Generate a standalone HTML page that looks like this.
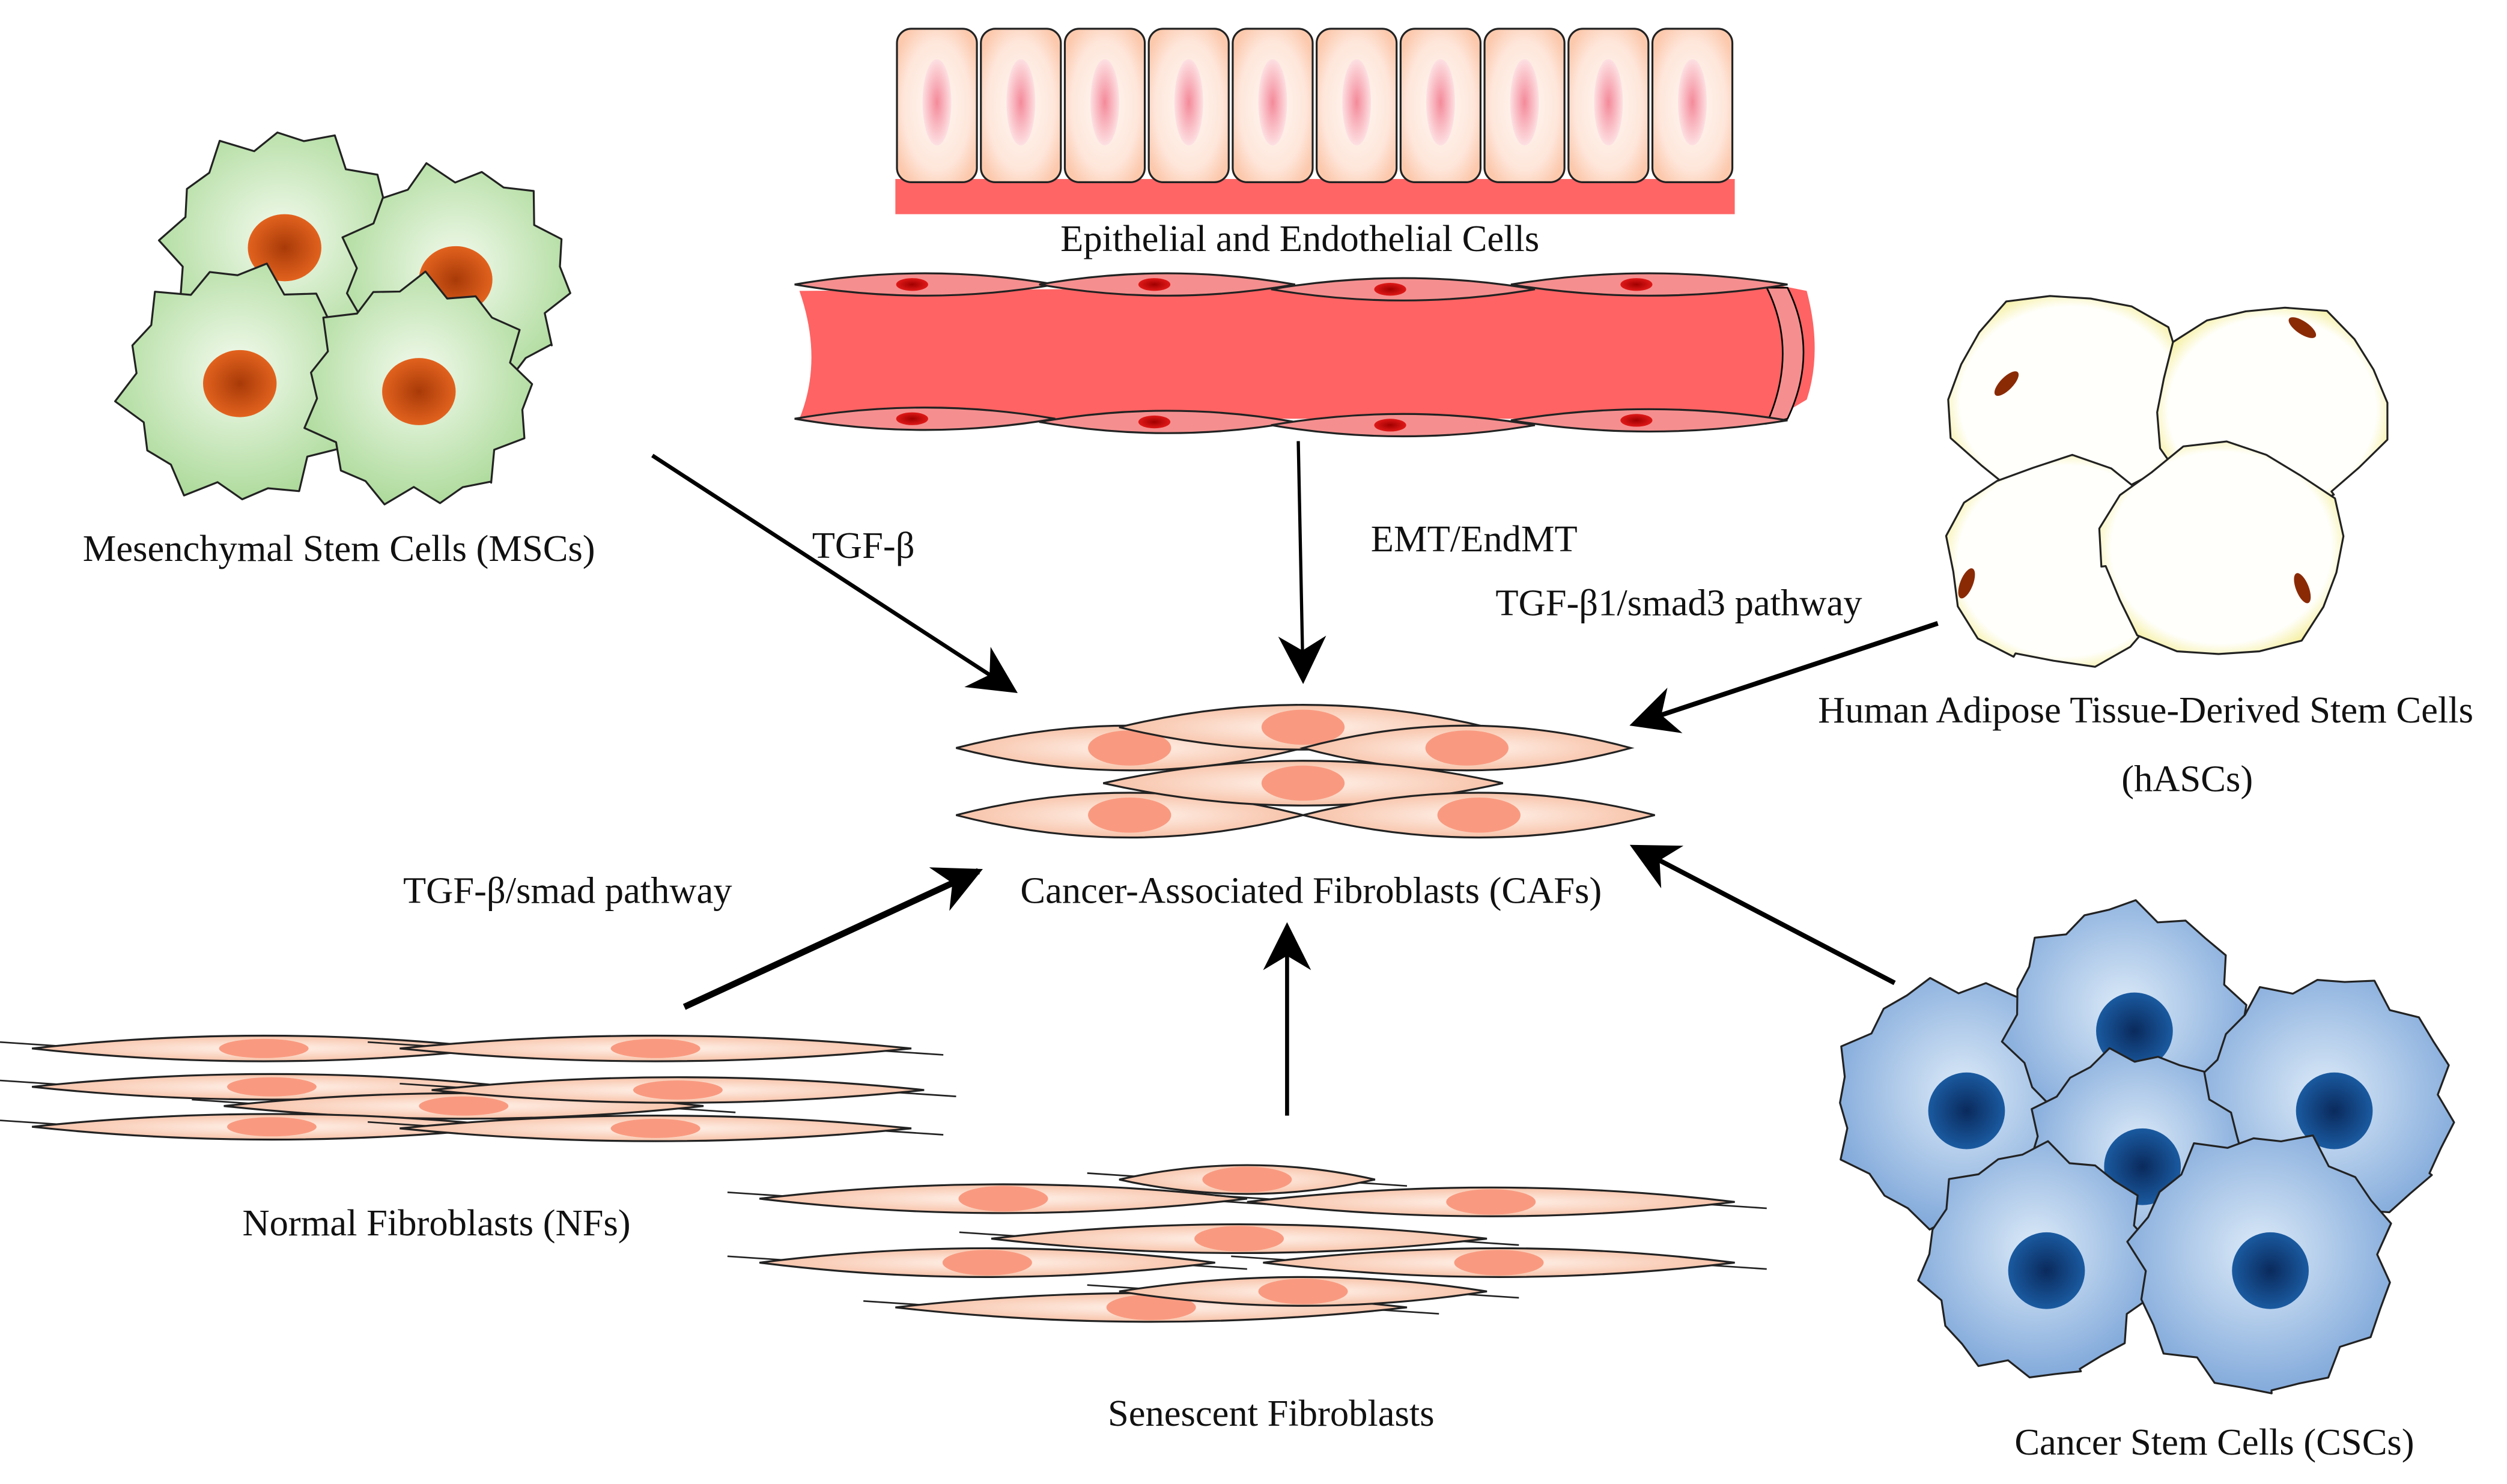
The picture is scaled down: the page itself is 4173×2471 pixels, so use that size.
<!DOCTYPE html>
<html><head><meta charset="utf-8"><style>
html,body{margin:0;padding:0;background:#fff}
svg{display:block}
text{font-family:"Liberation Serif",serif;font-size:23.5px;fill:#111}
</style></head><body>
<svg id="s" width="4173" height="2471" viewBox="0 0 1568 928.5" preserveAspectRatio="none" xmlns="http://www.w3.org/2000/svg">
<defs>
<radialGradient id="epi" cx="50%" cy="50%" r="60%"><stop offset="0" stop-color="#fff8f3"/><stop offset="0.7" stop-color="#fee6da"/><stop offset="1" stop-color="#fcc9ad"/></radialGradient>
<radialGradient id="epin"><stop offset="0" stop-color="#f48a9a"/><stop offset="1" stop-color="#fde0e2"/></radialGradient>
<radialGradient id="grn" cx="50%" cy="45%" r="60%"><stop offset="0" stop-color="#f4fbef"/><stop offset="1" stop-color="#a8d895"/></radialGradient>
<radialGradient id="grnn"><stop offset="0" stop-color="#a83a08"/><stop offset="1" stop-color="#e2621e"/></radialGradient>
<radialGradient id="blu" cx="50%" cy="45%" r="60%"><stop offset="0" stop-color="#dceaf8"/><stop offset="1" stop-color="#7aa4d8"/></radialGradient>
<radialGradient id="blun"><stop offset="0" stop-color="#0a2a5c"/><stop offset="1" stop-color="#1a5aa0"/></radialGradient>
<radialGradient id="fib" cx="50%" cy="50%" r="60%"><stop offset="0" stop-color="#fff3ec"/><stop offset="1" stop-color="#f6b89a"/></radialGradient>
<radialGradient id="fat" cx="50%" cy="50%" r="55%"><stop offset="0.82" stop-color="#fffffb"/><stop offset="1" stop-color="#f5ee9a"/></radialGradient>
<radialGradient id="vn"><stop offset="0" stop-color="#a00000"/><stop offset="1" stop-color="#e01818"/></radialGradient>
<marker id="ah2" viewBox="0 0 10 10" refX="9" refY="5" markerWidth="30" markerHeight="30" orient="auto" markerUnits="userSpaceOnUse"><path d="M0,0 L10,5 L0,10 L3,5 z" fill="#000"/></marker>
</defs>
<rect x="560" y="112" width="525" height="22" fill="#ff6565"/>
<g id="epig"></g>
<text x="813" y="157" text-anchor="middle">Epithelial and Endothelial Cells</text>
<path d="M500,182 Q515,225 500,262 L1110,262 L1130,250 Q1140,220 1130,182 L1110,178 Z" fill="#ff6363"/>
<path d="M1105,180 Q1125,220 1105,265 L1118,262 Q1138,220 1118,180 Z" fill="#f58f8f" stroke="#000" stroke-width="1"/>
<g id="vg"></g>
<g stroke="#000" fill="none">
<line x1="408" y1="285" x2="634" y2="432" stroke-width="2.5" marker-end="url(#ah2)"/>
<line x1="812" y1="276" x2="815" y2="425" stroke-width="2" marker-end="url(#ah2)"/>
<line x1="1212" y1="390" x2="1022" y2="453" stroke-width="3" marker-end="url(#ah2)"/>
<line x1="428" y1="630" x2="612" y2="545" stroke-width="4" marker-end="url(#ah2)"/>
<line x1="805" y1="698" x2="805" y2="580" stroke-width="2.5" marker-end="url(#ah2)"/>
<line x1="1185" y1="615" x2="1022" y2="530" stroke-width="3" marker-end="url(#ah2)"/>
</g>
<g id="cells"></g>
<text x="212" y="351" text-anchor="middle">Mesenchymal Stem Cells (MSCs)</text>
<text x="540" y="349" text-anchor="middle">TGF-β</text>
<text x="922" y="345" text-anchor="middle">EMT/EndMT</text>
<text x="1050" y="385" text-anchor="middle">TGF-β1/smad3 pathway</text>
<text x="1342" y="452" text-anchor="middle">Human Adipose Tissue-Derived Stem Cells</text>
<text x="1368" y="495" text-anchor="middle">(hASCs)</text>
<text x="820" y="565" text-anchor="middle">Cancer-Associated Fibroblasts (CAFs)</text>
<text x="355" y="565" text-anchor="middle">TGF-β/smad pathway</text>
<text x="273" y="773" text-anchor="middle">Normal Fibroblasts (NFs)</text>
<text x="795" y="892" text-anchor="middle">Senescent Fibroblasts</text>
<text x="1385" y="910" text-anchor="middle">Cancer Stem Cells (CSCs)</text>
</svg>
<script>
var NS="http://www.w3.org/2000/svg";
function el(p,t,a){var e=document.createElementNS(NS,t);for(var k in a)e.setAttribute(k,a[k]);document.getElementById(p).appendChild(e);return e;}
for(var i=0;i<10;i++){var x=560+i*52.5;el("epig","rect",{x:x+1,y:18,width:50,height:96,rx:9,fill:"url(#epi)",stroke:"#222","stroke-width":1.2});
el("epig","ellipse",{cx:x+26,cy:64,rx:9,ry:27,fill:"url(#epin)"});}
function spindle(p,x1,x2,y,h,fill,sw){var c=(x1+x2)/2;el(p,"path",{d:"M"+x1+","+y+" Q"+c+","+(y-h)+" "+x2+","+y+" Q"+c+","+(y+h)+" "+x1+","+y+"Z",fill:fill,stroke:"#222","stroke-width":sw||1.2});}
[[497,660,178],[650,810,178],[795,960,181],[945,1118,178]].forEach(function(a){spindle("vg",a[0],a[1],a[2],14,"#f58f8f");el("vg","ellipse",{cx:(a[0]+a[1])/2-8,cy:a[2],rx:10,ry:4,fill:"url(#vn)"});});
[[497,660,262],[650,810,264],[795,960,266],[945,1118,263]].forEach(function(a){spindle("vg",a[0],a[1],a[2],14,"#f58f8f");el("vg","ellipse",{cx:(a[0]+a[1])/2-8,cy:a[2],rx:10,ry:4,fill:"url(#vn)"});});
function blob(cx,cy,r,n,amp,fill,rot,sx,sy){sx=sx||1;sy=sy||1;var d="";for(var i=0;i<=n*2;i++){var a=rot+i*Math.PI/n;var rr=(i%2?r*(1-amp):r)*(1+0.05*Math.sin(i*1.7));var x=cx+sx*rr*Math.cos(a),y=cy+sy*rr*Math.sin(a);d+=(i?"L":"M")+x.toFixed(1)+","+y.toFixed(1);}el("cells","path",{d:d+"Z",fill:fill,stroke:"#222","stroke-width":1.2,"stroke-linejoin":"round"});}
[[178,155,75,0.3],[285,175,72,0.6],[150,240,75,0.1],[262,245,72,0.9]].forEach(function(c){blob(c[0],c[1],c[2],13,0.13,"url(#grn)",c[3]);el("cells","ellipse",{cx:c[0],cy:c[1],rx:23,ry:21,fill:"url(#grnn)"});});
[[1295,250,75],[1420,255,72],[1290,352,72],[1390,345,75]].forEach(function(c,i){blob(c[0],c[1],c[2],9,0.02,"url(#fat)",i,1.02,0.9);});
[[1255,240,-0.8],[1440,205,0.6],[1230,365,-1.2],[1440,368,1.2]].forEach(function(c){el("cells","ellipse",{cx:c[0],cy:c[1],rx:10,ry:4,fill:"#8a2a05",transform:"rotate("+(c[2]*57)+" "+c[0]+" "+c[1]+")"});});
[[1225,690,78],[1330,640,75],[1455,690,80],[1335,725,68],[1275,790,73],[1415,790,82]].forEach(function(c,i){blob(c[0],c[1],c[2],14,0.08,"url(#blu)",i*0.3);el("cells","circle",{cx:c[0]+5,cy:c[1]+5,r:24,fill:"url(#blun)"});});
function fibs(list,h,nr,nw,lines){list.forEach(function(a){var x1=a[0],x2=a[1],y=a[2];if(lines){el("cells","line",{x1:x1-20,y1:y-4,x2:x1+40,y2:y,stroke:"#222","stroke-width":1});el("cells","line",{x1:x2-40,y1:y,x2:x2+20,y2:y+4,stroke:"#222","stroke-width":1});}spindle("cells",x1,x2,y,h,"url(#fib)");el("cells","ellipse",{cx:(x1+x2)/2,cy:y,rx:nw,ry:nr,fill:"#f99a80"});});}
fibs([[598,815,468,40],[700,930,455],[815,1020,468],[598,815,510],[690,940,490],[815,1035,510]],28,11,26,false);
fibs([[20,310,656],[250,570,656],[20,320,680],[140,440,692],[270,578,682],[20,320,705],[250,570,706]],16,6,28,true);
fibs([[475,780,750],[700,860,738],[780,1085,752],[475,760,790],[620,930,775],[790,1085,790],[560,880,818],[700,930,808]],18,8,28,true);
</script>
</body></html>
